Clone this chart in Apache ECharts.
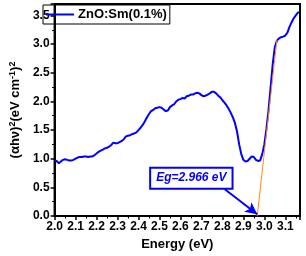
<!DOCTYPE html>
<html><head><meta charset="utf-8">
<script src="https://cdn.jsdelivr.net/npm/echarts@6/dist/echarts.min.js"></script>
<style>html,body{margin:0;padding:0;background:#fff}#c{width:306px;height:256px}</style>
</head><body><div id="c"></div>
<script>
const energy = [2.00,2.01,2.02,2.03,2.04,2.05,2.06,2.07,2.08,2.09,2.10,2.11,2.12,2.13,2.14,2.15,2.16,2.17,2.18,2.19,
2.20,2.21,2.22,2.23,2.24,2.25,2.26,2.27,2.28,2.29,2.30,2.31,2.32,2.33,2.34,2.35,2.36,2.37,2.38,2.39,
2.40,2.41,2.42,2.43,2.44,2.45,2.46,2.47,2.48,2.49,2.50,2.51,2.52,2.53,2.54,2.55,2.56,2.57,2.58,2.59,
2.60,2.61,2.62,2.63,2.64,2.65,2.66,2.67,2.68,2.69,2.70,2.71,2.72,2.73,2.74,2.75,2.76,2.77,2.78,2.79,
2.80,2.81,2.82,2.83,2.84,2.85,2.86,2.87,2.88,2.89,2.90,2.91,2.92,2.93,2.94,2.95,2.96,2.97,2.98,2.99,
3.00,3.01,3.02,3.03,3.04,3.05,3.06,3.07,3.08,3.09,3.10,3.11,3.12,3.13,3.14,3.15,3.16,3.165];
const absorb = [0.97,0.96,0.92,0.95,0.98,0.99,0.98,0.97,0.97,0.98,1.00,1.02,1.03,1.03,1.04,1.04,1.03,1.04,1.04,1.06,
1.09,1.12,1.14,1.16,1.18,1.19,1.21,1.24,1.28,1.27,1.27,1.29,1.31,1.34,1.39,1.40,1.41,1.43,1.44,1.46,
1.50,1.54,1.59,1.65,1.72,1.78,1.83,1.85,1.88,1.89,1.90,1.89,1.86,1.83,1.84,1.90,1.93,1.95,2.00,2.03,
2.04,2.06,2.05,2.09,2.10,2.12,2.12,2.14,2.15,2.14,2.11,2.09,2.10,2.12,2.14,2.17,2.17,2.14,2.10,2.07,
2.02,1.98,1.93,1.87,1.80,1.72,1.62,1.47,1.25,1.08,0.98,0.95,0.96,1.00,1.04,1.03,0.98,0.96,0.97,1.08,
1.25,1.52,1.85,2.25,2.65,2.95,3.06,3.10,3.12,3.13,3.15,3.20,3.30,3.38,3.45,3.50,3.55,3.56];
const tangentX = [2.966, 3.06];
const tangentY = [0, 3.07];
const egValue = 2.966;
const seriesName = 'ZnO:Sm(0.1%)';
const egLabel = 'Eg=2.966 eV';

const chart = echarts.init(document.getElementById('c'), null, {renderer:'canvas'});
const font = 'Liberation Sans, Arial, sans-serif';
chart.setOption({
  animation:false,
  grid:{left:40,right:6,top:4,bottom:40,show:true,borderColor:'#000',borderWidth:2,backgroundColor:'transparent'},
  legend:{data:[{name:seriesName,icon:'rect'}],left:43,top:5,orient:'horizontal',borderColor:'#000',borderWidth:1,padding:[3,3,3,3],
    itemWidth:28,itemHeight:2,itemGap:4,textStyle:{fontFamily:font,fontSize:13,fontWeight:'bold',color:'#000',padding:[0,0,0,-1]}},
  xAxis:{type:'value',min:2.0,max:3.17,interval:0.1,
    name:'Energy (eV)',nameLocation:'middle',nameGap:22,
    nameTextStyle:{fontFamily:font,fontSize:13,fontWeight:'bold',color:'#000'},
    axisLine:{lineStyle:{color:'#000',width:2}},
    axisTick:{inside:false,length:4,lineStyle:{width:1.5,color:'#000'}},
    minorTick:{show:true,splitNumber:2,length:2.5,lineStyle:{color:'#000',width:1}},
    splitLine:{show:false},
    axisLabel:{showMaxLabel:false,margin:5,fontFamily:font,fontSize:12,fontWeight:'bold',color:'#000',formatter:v=>v.toFixed(1)}},
  yAxis:{type:'value',min:0,max:3.7,interval:0.5,
    name:'(αhν){s|2}(eV cm{s|-1}){s|2}',nameLocation:'middle',nameGap:23,nameRotate:90,
    nameTextStyle:{fontFamily:font,fontSize:13,fontWeight:'bold',color:'#000',rich:{s:{fontFamily:font,fontSize:9,fontWeight:'bold',verticalAlign:'top',padding:[0,0,6,0]}}},
    axisLine:{lineStyle:{color:'#000',width:2}},
    axisTick:{inside:false,length:4,lineStyle:{width:1.5,color:'#000'}},
    minorTick:{show:true,splitNumber:2,length:2.5,lineStyle:{color:'#000',width:1}},
    splitLine:{show:false},
    axisLabel:{showMaxLabel:false,margin:5,fontFamily:font,fontSize:12,fontWeight:'bold',color:'#000',formatter:v=>v.toFixed(1)}},
  series:[
    {name:seriesName,type:'line',symbol:'none',data:energy.map((e,i)=>[e,absorb[i]]),
     lineStyle:{color:'#0000ff',width:2},itemStyle:{color:'#0000ff'},z:3,
     markLine:{silent:true,symbol:['none','arrow'],symbolSize:[9,12],
       lineStyle:{color:'#0000ff',width:2,type:'solid'},label:{show:false},
       data:[[{coord:[2.81,0.47]},{coord:[egValue,0.03]}]]},
     markPoint:{silent:true,symbol:'rect',symbolSize:0,
       data:[{coord:[2.652,0.66],value:egLabel}],
       label:{show:true,position:'inside',formatter:egLabel,color:'#0000ff',fontFamily:font,fontSize:12,fontWeight:'bold',fontStyle:'italic',
         borderColor:'#0000ff',borderWidth:2,padding:[4,5,3,5],backgroundColor:'#fff'}}},
    {name:'tangent',type:'line',symbol:'none',data:tangentX.map((e,i)=>[e,tangentY[i]]),
     lineStyle:{color:'#ff8c1a',width:1},z:4}
  ]
});
</script></body></html>
